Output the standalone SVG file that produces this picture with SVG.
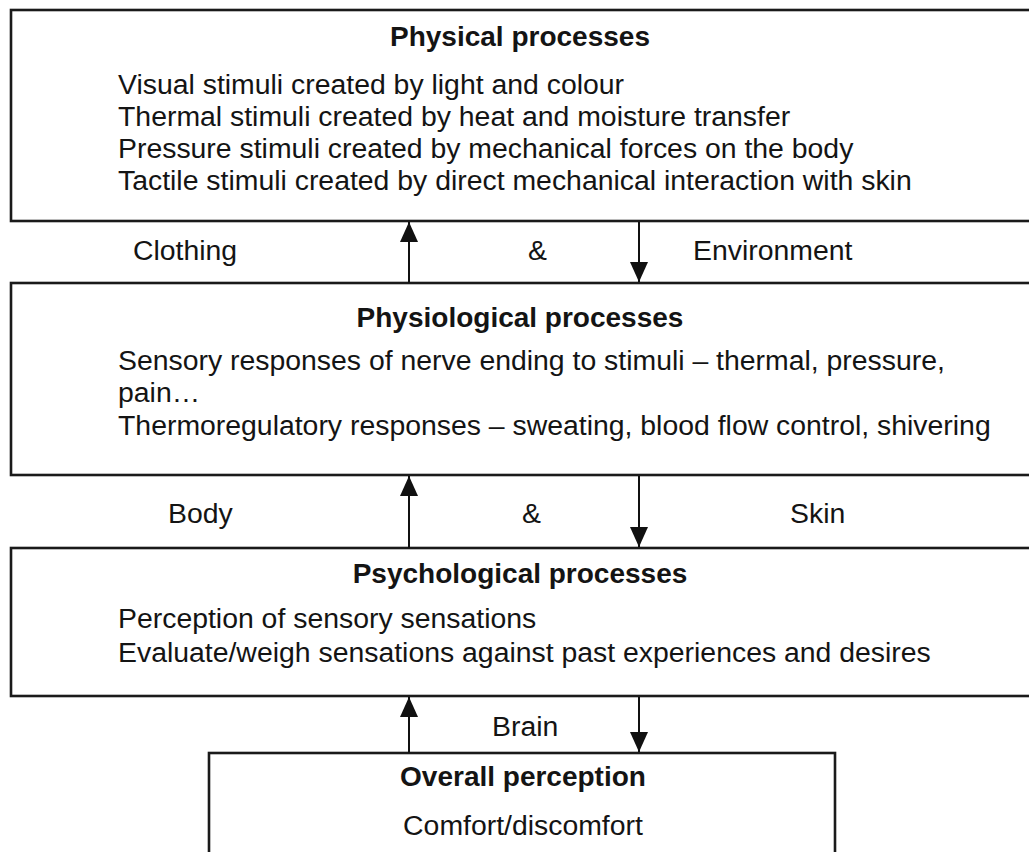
<svg xmlns="http://www.w3.org/2000/svg" width="1029" height="852" viewBox="0 0 1029 852">
  <defs>
    <marker id="arrow" viewBox="0 0 20 18" refX="20" refY="9" markerWidth="20" markerHeight="18" markerUnits="userSpaceOnUse" orient="auto">
      <path d="M0,0 L20,9 L0,18 Z" fill="#111"/>
    </marker>
  </defs>
  <style>
    .box { fill: #fff; stroke: #1a1a1a; stroke-width: 2.6; }
    .title { font-family: "Liberation Sans", Arial, sans-serif; font-size: 28px; font-weight: bold; fill: #141414; text-anchor: middle; }
    .body { font-family: "Liberation Sans", Arial, sans-serif; font-size: 28.4px; fill: #141414; }
    .mid { text-anchor: middle; }
    .conn { stroke: #111; stroke-width: 2; fill: none; marker-end: url(#arrow); }
  </style>

  <rect width="1029" height="852" fill="#fff"/>

  <!-- Physical processes -->
  <g id="physical">
    <rect class="box" x="11" y="10" width="1022" height="211"/>
    <text class="title" x="520" y="46">Physical processes</text>
    <text class="body" x="118" y="94">Visual stimuli created by light and colour</text>
    <text class="body" x="118" y="126">Thermal stimuli created by heat and moisture transfer</text>
    <text class="body" x="118" y="158">Pressure stimuli created by mechanical forces on the body</text>
    <text class="body" x="118" y="190">Tactile stimuli created by direct mechanical interaction with skin</text>
  </g>

  <!-- Physiological processes -->
  <g id="physiological">
    <rect class="box" x="11" y="283" width="1022" height="192"/>
    <text class="title" x="520" y="327">Physiological processes</text>
    <text class="body" x="118" y="370">Sensory responses of nerve ending to stimuli – thermal, pressure,</text>
    <text class="body" x="118" y="402">pain…</text>
    <text class="body" x="118" y="435">Thermoregulatory responses – sweating, blood flow control, shivering</text>
  </g>

  <!-- Psychological processes -->
  <g id="psychological">
    <rect class="box" x="11" y="548" width="1022" height="148"/>
    <text class="title" x="520" y="583">Psychological processes</text>
    <text class="body" x="118" y="628">Perception of sensory sensations</text>
    <text class="body" x="118" y="662">Evaluate/weigh sensations against past experiences and desires</text>
  </g>

  <!-- Overall perception -->
  <g id="overall">
    <rect class="box" x="209" y="753" width="626" height="110"/>
    <text class="title" x="523" y="786">Overall perception</text>
    <text class="body mid" x="523" y="835">Comfort/discomfort</text>
  </g>

  <!-- Links between the levels -->
  <g id="connectors">
    <line class="conn" x1="409" y1="283" x2="409" y2="222"/>
    <line class="conn" x1="639" y1="222" x2="639" y2="282"/>
    <line class="conn" x1="409" y1="548" x2="409" y2="476"/>
    <line class="conn" x1="639" y1="476" x2="639" y2="547"/>
    <line class="conn" x1="409" y1="753" x2="409" y2="697"/>
    <line class="conn" x1="639" y1="697" x2="639" y2="752"/>
  </g>

  <!-- Interface labels -->
  <g id="labels">
    <text class="body" x="133" y="260">Clothing</text>
    <text class="body" x="528" y="260">&amp;</text>
    <text class="body" x="693" y="260">Environment</text>
    <text class="body" x="168" y="523">Body</text>
    <text class="body" x="522" y="523">&amp;</text>
    <text class="body" x="790" y="523">Skin</text>
    <text class="body" x="492" y="736">Brain</text>
  </g>
</svg>
